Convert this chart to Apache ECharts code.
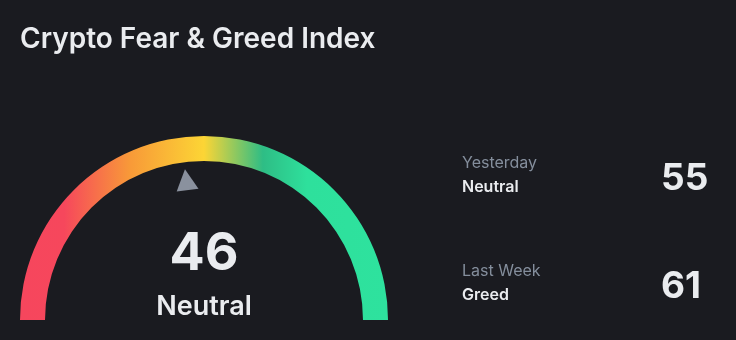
<!DOCTYPE html>
<html>
<head>
<meta charset="utf-8">
<script src="https://cdn.jsdelivr.net/npm/echarts@6/dist/echarts.min.js"></script>
<style>
  html, body { margin: 0; padding: 0; background: #1a1b20; }
  #chart { width: 736px; height: 340px; }
</style>
</head>
<body>
<div id="chart"></div>
<script>
// Current index reading and its sentiment label
const currentValue = 46;
const currentLabel = 'Neutral';

// Historical readings shown beside the gauge
const historyPeriods = ['Yesterday', 'Last Week'];
const historyLabels = ['Neutral', 'Greed'];
const historyValues = [55, 61];

const FONT = 'Inter, "Noto Sans", sans-serif';
const chart = echarts.init(document.getElementById('chart'), null, { renderer: 'canvas' });

// Fear (red) -> neutral (yellow) -> greed (green) band along the arc
const band = new echarts.graphic.LinearGradient(0, 0, 1, 0, [
  { offset: 0.00, color: '#f6465d' },
  { offset: 0.12, color: '#f6475c' },
  { offset: 0.30, color: '#f89a38' },
  { offset: 0.50, color: '#fcd535' },
  { offset: 0.66, color: '#2ebd85' },
  { offset: 0.78, color: '#2ee09c' },
  { offset: 1.00, color: '#2ee29e' }
]);

const historyGraphics = [];
historyPeriods.forEach((period, i) => {
  const top = 155 + i * 108;
  historyGraphics.push(
    { type: 'text', left: 462, top: top, style: { text: period, fill: '#848e9c', font: '400 16px ' + FONT } },
    { type: 'text', left: 462, top: top + 24, style: { text: historyLabels[i], fill: '#eaecef', font: '600 16px ' + FONT } },
    { type: 'text', left: 661, top: top + 5, style: { text: String(historyValues[i]), fill: '#eaecef', font: '700 37px ' + FONT } }
  );
});

chart.setOption({
  backgroundColor: '#1a1b20',
  title: {
    text: 'Crypto Fear & Greed Index',
    left: 15,
    top: 21,
    textStyle: { color: '#eaecef', fontFamily: FONT, fontWeight: 600, fontSize: 28 }
  },
  graphic: historyGraphics,
  series: [{
    type: 'gauge',
    center: [204, 320],
    radius: 184,
    startAngle: 180,
    endAngle: 0,
    min: 0,
    max: 100,
    axisLine: { lineStyle: { width: 25, color: [[1, band]] } },
    splitLine: { show: false },
    axisTick: { show: false },
    axisLabel: { show: false },
    pointer: {
      icon: 'triangle',
      length: 21,
      width: 22,
      offsetCenter: [0, -131],
      itemStyle: { color: '#8a919e' }
    },
    anchor: { show: false },
    title: {
      offsetCenter: [0, -13],
      color: '#eaecef',
      fontFamily: FONT,
      fontWeight: 600,
      fontSize: 27
    },
    detail: {
      offsetCenter: [0, -66],
      color: '#eaecef',
      fontFamily: FONT,
      fontWeight: 700,
      fontSize: 52,
      formatter: '{value}'
    },
    animation: false,
    data: [{ value: currentValue, name: currentLabel }]
  }]
});
</script>
</body>
</html>
